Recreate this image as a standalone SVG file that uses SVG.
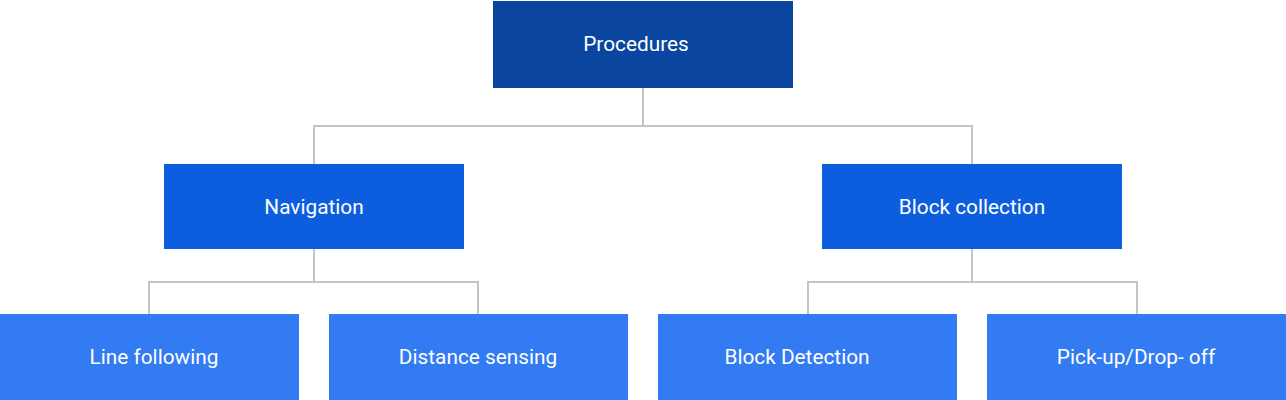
<svg xmlns="http://www.w3.org/2000/svg" width="1286" height="400" viewBox="0 0 1286 400">
<style>
.l1{fill:#0A46A0}
.l2{fill:#0C5EDF}
.l3{fill:#327BF3}
.t{fill:#ffffff;font-family:Roboto,"Liberation Sans",sans-serif;font-size:20.8px;text-anchor:middle;dominant-baseline:central}
.c{fill:none;stroke:#C4C4C4;stroke-width:2}
</style>
<rect width="1286" height="400" fill="#ffffff"/>
<g id="connectors">
<path class="c" d="M643,88V126M314,126H972M314,125V164M972,125V164"/>
<path class="c" d="M314,249V282M149,282H478M149,281V314M478,281V314"/>
<path class="c" d="M972,249V282M808,282H1137M808,281V314M1137,281V314"/>
</g>
<g id="procedures"><rect class="l1" x="493" y="1" width="300" height="87"/><text class="t" x="636" y="43.5">Procedures</text></g>
<g id="navigation"><rect class="l2" x="164" y="164" width="300" height="85"/><text class="t" x="314" y="206.5">Navigation</text></g>
<g id="block-collection"><rect class="l2" x="822" y="164" width="300" height="85"/><text class="t" x="972" y="206.5">Block collection</text></g>
<g id="line-following"><rect class="l3" x="0" y="314" width="299" height="86"/><text class="t" x="154" y="356.5">Line following</text></g>
<g id="distance-sensing"><rect class="l3" x="329" y="314" width="299" height="86"/><text class="t" x="478" y="356.5">Distance sensing</text></g>
<g id="block-detection"><rect class="l3" x="658" y="314" width="299" height="86"/><text class="t" x="797" y="356.5">Block Detection</text></g>
<g id="pickup-dropoff"><rect class="l3" x="987" y="314" width="299" height="86"/><text class="t" x="1136" y="356.5">Pick-up/Drop- off</text></g>
</svg>
